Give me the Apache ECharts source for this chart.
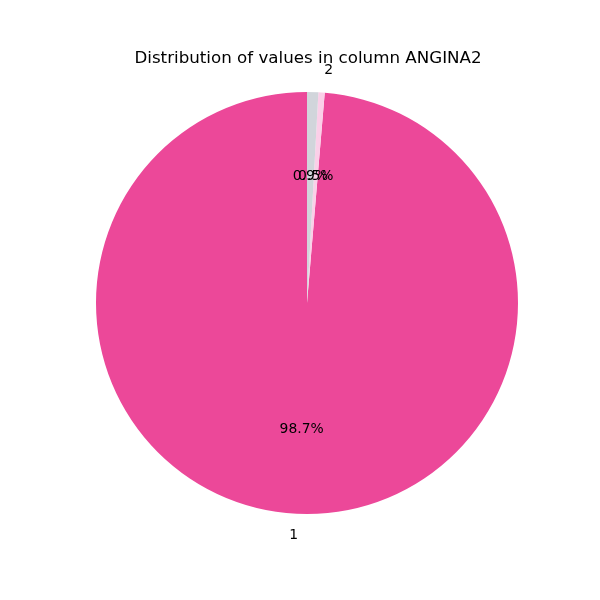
<!DOCTYPE html>
<html>
<head>
<meta charset="utf-8">
<script src="https://cdn.jsdelivr.net/npm/echarts@6/dist/echarts.min.js"></script>
<style>html,body{margin:0;padding:0;background:#fff;}#c{width:600px;height:600px;}</style>
</head>
<body>
<div id="c"></div>
<script>
var categories = ['1', '2', ''];
var values = [98.66, 0.48, 0.86];
var colors = ['#EC4899', '#FBCFE8', '#D1D5DB'];
var titleText = 'Distribution of values in column ANGINA2';

var R = 211;
var total = values.reduce(function (a, b) { return a + b; }, 0);
var cx = 307, cy = 303;
var font = 'DejaVu Sans';

function pct(v) { return (v / total * 100).toFixed(1) + '%'; }

var wedgeData = categories.map(function (c, i) {
  return { name: c || ' ', value: values[i], itemStyle: { color: colors[i] } };
});
var pctData = categories.map(function (c, i) {
  return { name: c || ' ', value: values[i], label: { formatter: pct(values[i]) } };
});
// name labels at 1.1R, alignment depends on side like matplotlib
var nameData = categories.map(function (c, i) {
  var before = 0;
  for (var k = 0; k < i; k++) before += values[k];
  var mid = 90 + (before + values[i] / 2) / total * 360;
  var cosv = Math.cos(mid * Math.PI / 180);
  var right = cosv >= 0;
  return { name: c || ' ', value: values[i], label: { formatter: c, align: right ? 'left' : 'right', padding: right ? [0, 0, 0, 11] : [0, 7, 0, 0] } };
});

var common = {
  type: 'pie',
  center: [cx, cy],
  startAngle: 90,
  clockwise: false,
  avoidLabelOverlap: false,
  silent: true,
  animation: false,
  labelLine: { show: false },
  labelLayout: { hideOverlap: false },
  emphasis: { disabled: true }
};

var chart = echarts.init(document.getElementById('c'), null, { renderer: 'canvas' });
chart.setOption({
  backgroundColor: '#fff',
  title: {
    text: titleText,
    left: 303, top: 45, textAlign: 'center',
    textStyle: { fontFamily: font, fontSize: 16.7, fontWeight: 'normal', color: '#000' }
  },
  series: [
    Object.assign({}, common, {
      radius: [0, R],
      data: wedgeData,
      label: { show: false }
    }),
    Object.assign({}, common, {
      radius: [0, R * 1.175],
      itemStyle: { color: 'rgba(0,0,0,0)' },
      data: pctData,
      label: { show: true, position: 'inside', fontFamily: font, fontSize: 13.9, color: '#000' }
    }),
    Object.assign({}, common, {
      radius: [0, R * 2.18],
      itemStyle: { color: 'rgba(0,0,0,0)' },
      data: nameData,
      label: { show: true, position: 'inside', fontFamily: font, fontSize: 13.9, color: '#000' }
    })
  ]
});
</script>
</body>
</html>
